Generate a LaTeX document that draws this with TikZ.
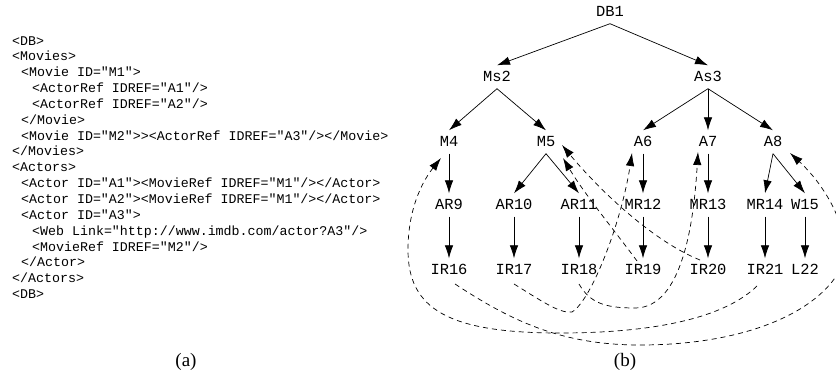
\documentclass[tikz,border=0pt]{standalone}
\usepackage{fontspec}
\setmainfont{Liberation Serif}
\newfontfamily\cmono{Liberation Mono}
\usetikzlibrary{arrows.meta,calc}
\begin{document}
\begin{tikzpicture}[x=1pt,y=-1pt,
  tn/.style={font=\cmono\fontsize{15.4}{18}\selectfont, inner xsep=1pt, inner ysep=0pt, text height=8.8pt, text depth=0pt, minimum height=23pt},
  tr/.style={-{Latex[length=13pt,width=8.5pt]}, line width=0.7pt},
  lk/.style={tr, dash pattern=on 5pt off 4pt},
  xl/.style={font=\cmono\fontsize{13.3}{15.85}\selectfont, anchor=base west, inner sep=0pt},
  capt/.style={font=\fontsize{19}{22}\selectfont, inner sep=0pt}]
\useasboundingbox (0,0) rectangle (836,375);

% XML text
\node[xl] (x1)  at (12,45)    {<DB>};
\node[xl] (x2)  at (12,60.85) {<Movies>};
\node[xl] (x3)  at (21,76.7)  {<Movie ID="M1">};
\node[xl] (x4)  at (32,92.55) {<ActorRef IDREF="A1"/>};
\node[xl] (x5)  at (32,108.4) {<ActorRef IDREF="A2"/>};
\node[xl] (x6)  at (21,124.25) {</Movie>};
\node[xl] (x7)  at (21,140.1) {<Movie ID="M2">><ActorRef IDREF="A3"/></Movie>};
\node[xl] (x8)  at (12,155.95) {</Movies>};
\node[xl] (x9)  at (12,171.8) {<Actors>};
\node[xl] (x10) at (21,187.65) {<Actor ID="A1"><MovieRef IDREF="M1"/></Actor>};
\node[xl] (x11) at (21,203.5) {<Actor ID="A2"><MovieRef IDREF="M1"/></Actor>};
\node[xl] (x12) at (21,219.35) {<Actor ID="A3">};
\node[xl] (x13) at (32,235.2) {<Web Link="http://www.imdb.com/actor?A3"/>};
\node[xl] (x14) at (32,251.05) {<MovieRef IDREF="M2"/>};
\node[xl] (x15) at (21,266.9) {</Actor>};
\node[xl] (x16) at (12,282.75) {</Actors>};
\node[xl] (x17) at (12,298.6) {<DB>};

% tree nodes
\node[tn] (DB1) at (610,12) {DB1};
\node[tn] (Ms2) at (497,77) {Ms2};
\node[tn] (As3) at (708,77) {As3};
\node[tn] (M4) at (449,142) {M4};
\node[tn] (M5) at (546,142) {M5};
\node[tn] (A6) at (643,142) {A6};
\node[tn] (A7) at (708,142) {A7};
\node[tn] (A8) at (773,142) {A8};
\node[tn] (AR9) at (449,205) {AR9};
\node[tn] (AR10) at (514,205) {AR10};
\node[tn] (AR11) at (579,205) {AR11};
\node[tn] (MR12) at (643,205) {MR12};
\node[tn] (MR13) at (708,205) {MR13};
\node[tn] (MR14) at (765,205) {MR14};
\node[tn] (W15) at (805,205) {W15};
\node[tn] (IR16) at (449,270) {IR16};
\node[tn] (IR17) at (514,270) {IR17};
\node[tn] (IR18) at (579,270) {IR18};
\node[tn] (IR19) at (643,270) {IR19};
\node[tn] (IR20) at (708,270) {IR20};
\node[tn] (IR21) at (765,270) {IR21};
\node[tn] (L22) at (805,270) {L22};

% tree edges
\draw[tr] (DB1.south) -- (Ms2.north);
\draw[tr] (DB1.south) -- (As3.north);
\draw[tr] (Ms2.south) -- (M4.north);
\draw[tr] (Ms2.south) -- (M5.north);
\draw[tr] (As3.south) -- (A6.north);
\draw[tr] (As3.south) -- (A7.north);
\draw[tr] (As3.south) -- (A8.north);
\draw[tr] (M4.south) -- (AR9.north);
\draw[tr] (M5.south) -- (AR10.north);
\draw[tr] (M5.south) -- (AR11.north);
\draw[tr] (A6.south) -- (MR12.north);
\draw[tr] (A7.south) -- (MR13.north);
\draw[tr] (A8.south) -- (MR14.north);
\draw[tr] (A8.south) -- (W15.north);
\draw[tr] (AR9.south) -- (IR16.north);
\draw[tr] (AR10.south) -- (IR17.north);
\draw[tr] (AR11.south) -- (IR18.north);
\draw[tr] (MR12.south) -- (IR19.north);
\draw[tr] (MR13.south) -- (IR20.north);
\draw[tr] (MR14.south) -- (IR21.north);
\draw[tr] (W15.south) -- (L22.north);

% reference links
\coordinate (ca) at (560,333);
\coordinate (cb) at (408,250);
\draw[lk] ($(IR21)+(-8,16)$) .. controls (720,322) and (640,333) .. (ca)
  .. controls (450,333) and (408,310) .. (cb)
  .. controls (408,205) and (425,178) .. ($(M4)+(-8,16)$);

\coordinate (cc) at (640,345);
\coordinate (cd) at (840,270);
\draw[lk] ($(IR16)+(6,14)$) .. controls (510,320) and (560,345) .. (cc)
  .. controls (740,345) and (815,315) .. (cd)
  .. controls (855,240) and (830,190) .. ($(A8)+(17,11)$);

\coordinate (ce) at (572,312);
\draw[lk] ($(IR17)+(0,14)$) .. controls (540,300) and (560,314) .. (ce)
  .. controls (592,300) and (622,220) .. ($(A6)+(-11,11)$);

\coordinate (cf) at (635,308);
\draw[lk] ($(IR18)+(0,14)$) .. controls (590,303) and (605,308) .. (cf)
  .. controls (683,308) and (694,220) .. ($(A7)+(-10,10)$);

\draw[lk] ($(IR19)+(-6,-9)$) .. controls (618,235) and (585,195) .. ($(M5)+(17,16)$);
\draw[lk] ($(IR20)+(-8,-10)$) .. controls (650,240) and (595,185) .. ($(M5)+(16,3)$);

% captions
\node[capt] (ca1) at (186,362) {(a)};
\node[capt] (cb1) at (625,362) {(b)};
\end{tikzpicture}
\end{document}
